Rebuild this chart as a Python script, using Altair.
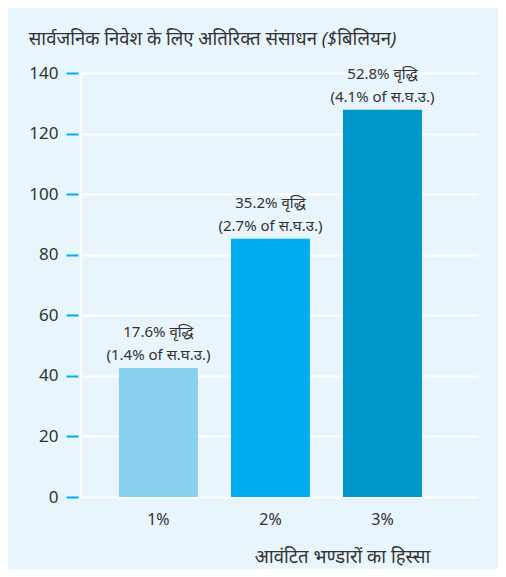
import altair as alt
import pandas as pd

categories = ["1%", "2%", "3%"]
values = [42.6, 85.3, 127.9]
growth = ["17.6% वृद्धि", "35.2% वृद्धि", "52.8% वृद्धि"]
gdp_share = ["(1.4% of स.घ.उ.)", "(2.7% of स.घ.उ.)", "(4.1% of स.घ.उ.)"]
colors = ["#89CFF0", "#00AEEF", "#0097CC"]
y_ticks = [0, 20, 40, 60, 80, 100, 120, 140]

df = pd.DataFrame({
    "cat": categories,
    "val": values,
    "growth": growth,
    "share": gdp_share,
})

FONT = "Noto Sans"
TXT = "#333333"

x = alt.X("cat:N", sort=categories,
          scale=alt.Scale(paddingInner=0.295, paddingOuter=0.424, align=0.41),
          axis=alt.Axis(title="आवंटित भण्डारों का हिस्सा", labelAngle=0, ticks=False,
                        domain=False, labelPadding=14, labelFontSize=16,
                        labelColor=TXT, labelFont=FONT, titleFont=FONT,
                        titleFontSize=18.5, titleFontStyle="italic", titleFontWeight="normal",
                        titleColor=TXT, titleX=262, titleY=50, titleAlign="center",
                        grid=False))
y = alt.Y("val:Q", scale=alt.Scale(domain=[0, 140], nice=False),
          axis=alt.Axis(title=None, values=y_ticks, offset=2, tickSize=12,
                        tickColor="#00AEEF", tickWidth=2, domain=False,
                        labelPadding=8, labelFontSize=17, labelColor=TXT,
                        labelFont=FONT, grid=True, gridColor="white", gridWidth=2,
                        gridOpacity=1))

bars = alt.Chart(df).mark_bar().encode(
    x=x, y=y,
    color=alt.Color("cat:N", scale=alt.Scale(domain=categories, range=colors), legend=None),
)

line1 = alt.Chart(df).mark_text(
    baseline="middle", align="center", dy=-36, fontSize=15, font=FONT, color=TXT,
).encode(x=alt.X("cat:N", sort=categories), y="val:Q", text="growth:N")

line2 = alt.Chart(df).mark_text(
    baseline="middle", align="center", dy=-13, fontSize=15, font=FONT, color=TXT,
).encode(x=alt.X("cat:N", sort=categories), y="val:Q", text="share:N")

edge = alt.Chart(df).mark_rule(color="white", strokeWidth=2).encode(
    x=alt.value(1), y=alt.value(0), y2=alt.value(424)
)

chart = alt.layer(bars, line1, line2, edge).properties(
    width=398, height=424,
    autosize=alt.AutoSizeParams(type="none"),
    padding={"left": 72, "top": 65, "right": 20, "bottom": 72},
    background="#E8F5FC",
    title=alt.TitleParams(
        "सार्वजनिक निवेश के लिए अतिरिक्त संसाधन ($बिलियन)",
        anchor="start", dx=0, offset=16, fontSize=18.5, font=FONT,
        fontStyle="italic", fontWeight="normal", color=TXT,
    ),
).configure_view(stroke=None)

chart.save("out.html", embed_options={"renderer": "svg", "actions": False})
